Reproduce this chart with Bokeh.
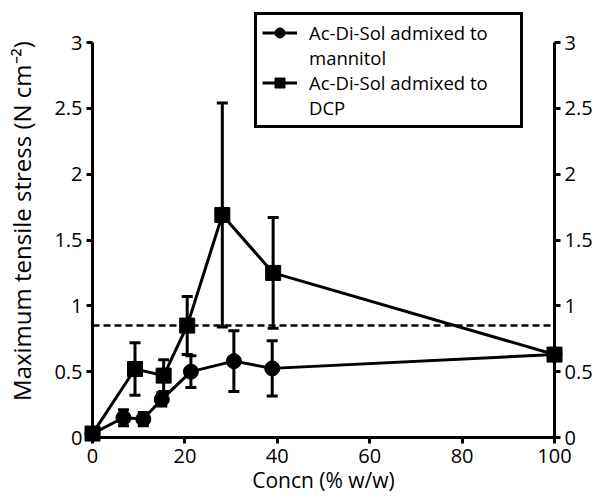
from bokeh.plotting import figure
from bokeh.models import (Range1d, LinearAxis, FixedTicker, NumeralTickFormatter, Span,
                          Whisker, TeeHead, ColumnDataSource, Legend, LegendItem)
from bokeh.embed import file_html
from bokeh.resources import INLINE

# ---- data ----
man_x = [0, 6.7, 11.0, 15.0, 21.3, 30.6, 38.9, 100]
man_y = [0.03, 0.15, 0.14, 0.29, 0.50, 0.58, 0.525, 0.63]
man_err = [0.0, 0.06, 0.05, 0.05, 0.12, 0.23, 0.21, 0.0]

dcp_x = [0, 9.2, 15.4, 20.5, 28.1, 39.1, 100]
dcp_y = [0.03, 0.52, 0.47, 0.85, 1.69, 1.25, 0.63]
dcp_err = [0.0, 0.20, 0.12, 0.22, 0.85, 0.42, 0.0]

ref_level = 0.85
x_ticks = [0, 20, 40, 60, 80, 100]
y_ticks = [0, 0.5, 1, 1.5, 2, 2.5, 3]
label1a, label1b = "Ac-Di-Sol admixed to", "mannitol"
label2a, label2b = "Ac-Di-Sol admixed to", "DCP"
x_title = "Concn (% w/w)"
y_title = "Maximum tensile stress (N cm\u207b\u00b2)"

FONT = "Open Sans"
TICK_FS = "20px"
XTITLE_FS = "21px"
YTITLE_FS = "24px"
LEG_FS = "18.5px"

# frame: y 4 .. 437, value 3 at y 42
Y_TOP = 3 * 433 / 395

p = figure(width=596, height=504, output_backend="svg", toolbar_location=None,
           x_range=Range1d(0, 100), y_range=Range1d(0, Y_TOP),
           x_axis_location=None, y_axis_location=None,
           min_border_left=92, min_border_right=42, min_border_top=4, min_border_bottom=67)
p.outline_line_color = None
p.grid.visible = False
p.background_fill_color = "white"


def style_axis(ax):
    ax.axis_line_width = 3
    ax.axis_line_color = "black"
    ax.major_tick_line_width = 3
    ax.major_tick_out = 6
    ax.major_tick_in = 0
    ax.minor_tick_out = 0
    ax.minor_tick_in = 0
    ax.major_label_text_font = FONT
    ax.major_label_text_font_size = TICK_FS
    ax.major_label_text_color = "black"
    ax.axis_label_text_font = FONT
    ax.axis_label_text_font_style = "normal"
    ax.axis_label_text_color = "black"


xa = LinearAxis(ticker=FixedTicker(ticks=x_ticks), axis_label=x_title)
style_axis(xa)
xa.axis_label_text_font_size = XTITLE_FS
xa.major_label_standoff = 5
xa.axis_label_standoff = 0
p.add_layout(xa, "below")

ya = LinearAxis(ticker=FixedTicker(ticks=y_ticks), axis_label=y_title, bounds=(0, 3),
                formatter=NumeralTickFormatter(format="0.[0]"))
style_axis(ya)
ya.axis_label_text_font_size = YTITLE_FS
ya.major_label_standoff = 4
ya.axis_label_standoff = 13
p.add_layout(ya, "left")

ya2 = LinearAxis(ticker=FixedTicker(ticks=y_ticks), bounds=(0, 3),
                 formatter=NumeralTickFormatter(format="0.[0]"))
style_axis(ya2)
ya2.major_label_standoff = 4
p.add_layout(ya2, "right")

p.add_layout(Span(location=ref_level, dimension="width", line_color="black",
                  line_width=2.5, line_dash="7 4"))

src_m = ColumnDataSource(dict(x=man_x, y=man_y,
                              lo=[a - b for a, b in zip(man_y, man_err)],
                              hi=[a + b for a, b in zip(man_y, man_err)]))
src_d = ColumnDataSource(dict(x=dcp_x, y=dcp_y,
                              lo=[a - b for a, b in zip(dcp_y, dcp_err)],
                              hi=[a + b for a, b in zip(dcp_y, dcp_err)]))

for src in (src_m, src_d):
    w = Whisker(source=src, base="x", upper="hi", lower="lo", line_width=3, line_color="black",
                upper_head=TeeHead(size=11, line_width=3, line_color="black"),
                lower_head=TeeHead(size=11, line_width=3, line_color="black"))
    p.add_layout(w)

lm = p.line("x", "y", source=src_m, line_width=3, line_color="black", level="overlay")
sm = p.scatter("x", "y", source=src_m, marker="circle", size=15, fill_color="black",
               line_color="black", level="overlay")
ld = p.line("x", "y", source=src_d, line_width=3, line_color="black", level="overlay")
sd = p.scatter("x", "y", source=src_d, marker="square", size=15, fill_color="black",
               line_color="black", level="overlay")

legend = Legend(items=[
    LegendItem(label=label1a, renderers=[lm, sm]),
    LegendItem(label=label1b, renderers=[]),
    LegendItem(label=label2a, renderers=[ld, sd]),
    LegendItem(label=label2b, renderers=[]),
], location=(162, 309))
legend.label_text_font = FONT
legend.label_text_font_size = LEG_FS
legend.label_text_color = "black"
legend.label_height = 25
legend.glyph_height = 25
legend.glyph_width = 35
legend.label_width = 206
legend.label_standoff = 12
legend.spacing = 0
legend.padding = 5
legend.margin = 0
legend.border_line_color = "black"
legend.border_line_alpha = 1
legend.border_line_width = 3
legend.background_fill_color = "white"
legend.background_fill_alpha = 1
p.add_layout(legend, "center")

open("out.html", "w").write(file_html(p, INLINE))
